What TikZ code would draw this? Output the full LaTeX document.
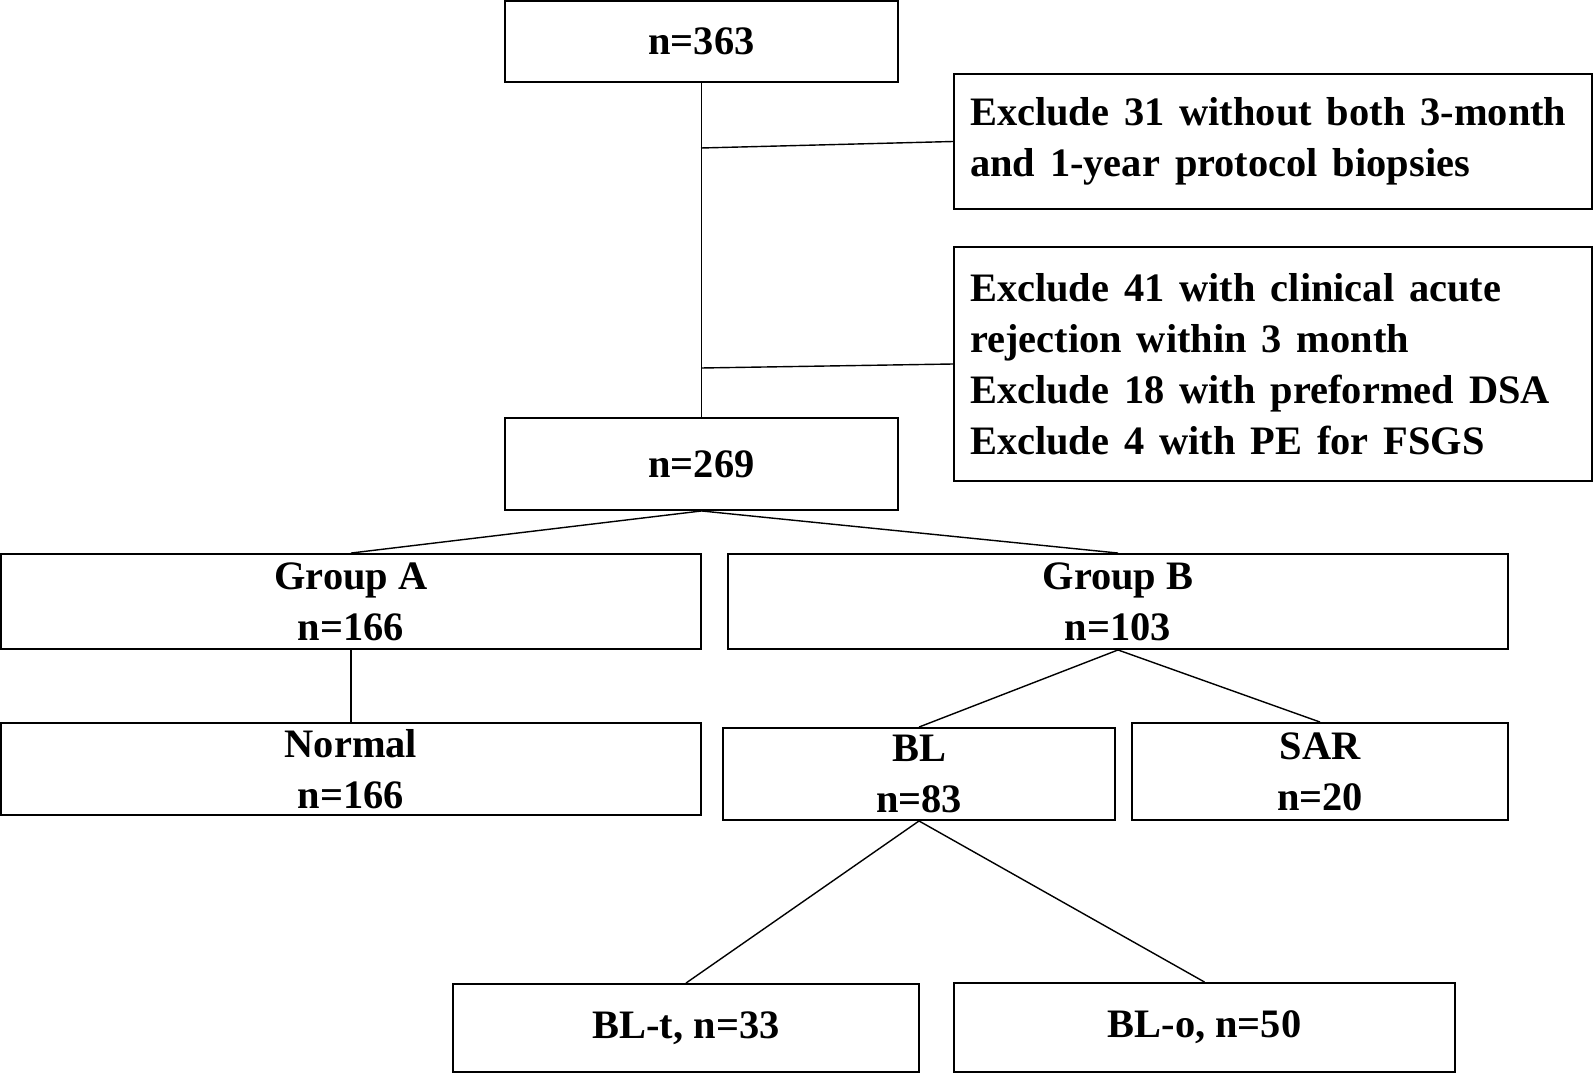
\documentclass[tikz,border=0pt]{standalone}
\usepackage{fontspec}
\setmainfont{Liberation Serif}
\usetikzlibrary{positioning}
\newcommand{\widesp}{\spaceskip=0.37em plus 0.1em\relax}

\begin{document}
\begin{tikzpicture}[x=0.02cm,y=-0.02cm]
	%\draw[help lines] (0,0) grid (1594,1074);
	\useasboundingbox (0,0) rectangle (1594,1074);

	\tikzstyle{box} = [draw,line width=1.1pt,inner sep=0pt,align=center,font=\fontsize{23}{29}\selectfont\bfseries]
	\tikzstyle{xbox} = [box,align=left,text width=12.12cm,inner xsep=0.32cm]
	\tikzstyle{link} = [line width=0.8pt]

\node[box,minimum width=7.86cm,minimum height=1.62cm] (n0) at (701.5,41.5) {n=363};
\node[xbox,minimum height=2.7cm] (ex1) at (1273,141.5) {\widesp Exclude 31 without both 3-month\\and 1-year protocol biopsies};
\node[xbox,minimum height=4.68cm] (ex2) at (1273,364) {\widesp Exclude 41 with clinical acute\\rejection within 3 month\\Exclude 18 with preformed DSA\\Exclude 4 with PE for FSGS};
\node[box,minimum width=7.86cm,minimum height=1.84cm] (n1) at (701.5,464) {n=269};

\node[box,minimum width=14cm,minimum height=1.9cm] (ga) at (351,601.5) {Group A\\n=166};
\node[box,minimum width=15.6cm,minimum height=1.9cm] (gb) at (1118,601.5) {Group B\\n=103};

\node[box,minimum width=14cm,minimum height=1.84cm] (nor) at (351,769) {Normal\\n=166};
\node[box,minimum width=7.84cm,minimum height=1.84cm] (bl) at (919,774) {BL\\n=83};
\node[box,minimum width=7.52cm,minimum height=1.94cm] (sar) at (1320,771.5) {SAR\\n=20};

\node[box,minimum width=9.32cm,minimum height=1.76cm] (blt) at (686,1028) {BL-t, n=33};
\node[box,minimum width=10.02cm,minimum height=1.78cm] (blo) at (1204.5,1027.5) {BL-o, n=50};

\coordinate (j1) at (701,148);
\coordinate (j2) at (701,368);

\draw[link] (n0) -- (n1);
\draw[link] (j1) -- (ex1.west);
\draw[link] (j2) -- (ex2.west);

\draw[link] (n1.south) -- (ga.north);
\draw[link] (n1.south) -- (gb.north);
\draw[link] (ga) -- (nor);
\draw[link] (gb.south) -- (bl.north);
\draw[link] (gb.south) -- (sar.north);
\draw[link] (bl.south) -- (blt.north);
\draw[link] (bl.south) -- (blo.north);
\end{tikzpicture}
\end{document}
